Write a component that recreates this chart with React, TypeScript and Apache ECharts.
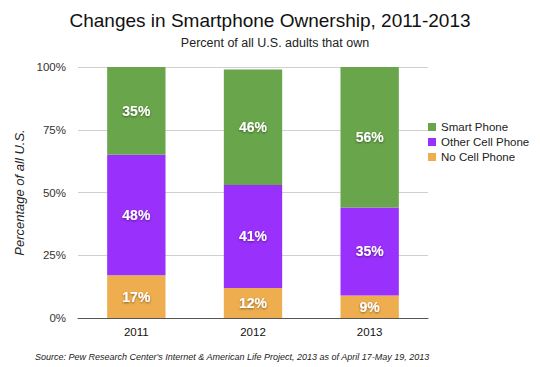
import React, { useEffect, useRef } from "react";
import * as echarts from "echarts";

const years = ["2011", "2012", "2013"];
const noCell = [17, 12, 9];
const otherCell = [48, 41, 35];
const smart = [35, 46, 56];
const yTicks = ["0%", "25%", "50%", "75%", "100%"];

export default function App() {
  const ref = useRef<HTMLDivElement>(null);
  useEffect(() => {
    const chart = echarts.init(ref.current!, null, { renderer: "svg" });
    const font = "Helvetica, Arial, 'Liberation Sans', sans-serif";
    const label = {
      show: true,
      color: "#fff",
      fontWeight: "bold" as const,
      fontSize: 14,
      fontFamily: font,
      textShadowColor: "rgba(0,0,0,0.45)",
      textShadowBlur: 2,
      textShadowOffsetY: 1,
      formatter: (p: any) => p.value + "%",
    };
    chart.setOption({
      animation: false,
      backgroundColor: "#fff",
      title: [
        {
          text: "Changes in Smartphone Ownership, 2011-2013",
          left: "center",
          top: 6,
          textStyle: { fontSize: 19, fontWeight: "normal", color: "#111", fontFamily: font },
        },
        {
          text: "Percent of all U.S. adults that own",
          left: 270,
          textAlign: "center",
          top: 31,
          textStyle: { fontSize: 12.5, fontWeight: "normal", color: "#222", fontFamily: font },
        },
        {
          text: "Source: Pew Research Center's Internet & American Life Project, 2013 as of April 17-May 19, 2013",
          left: 30,
          top: 347,
          textStyle: { fontSize: 9, fontStyle: "italic", fontWeight: "normal", color: "#222", fontFamily: font },
        },
      ],
      legend: {
        orient: "vertical",
        left: 423,
        top: 116,
        itemWidth: 8,
        itemHeight: 8,
        itemGap: 3,
        icon: "rect",
        data: ["Smart Phone", "Other Cell Phone", "No Cell Phone"],
        textStyle: { fontSize: 11.5, color: "#222", fontFamily: font },
      },
      grid: { left: 78, right: 112, top: 67, bottom: 49 },
      xAxis: {
        type: "category",
        data: years,
        axisTick: { show: false },
        axisLine: { lineStyle: { color: "#555", width: 1 } },
        axisLabel: { fontSize: 11.5, color: "#111", fontFamily: font, margin: 8 },
      },
      yAxis: {
        type: "value",
        min: 0,
        max: 100,
        interval: 25,
        name: "Percentage of all U.S.",
        nameLocation: "middle",
        nameGap: 52,
        nameTextStyle: { fontSize: 13, fontStyle: "italic", color: "#222", fontFamily: font },
        axisLabel: {
          fontSize: 11.5,
          color: "#333",
          fontFamily: font,
          margin: 12,
          formatter: (v: number) => yTicks[Math.round(v / 25)],
        },
        splitLine: { lineStyle: { color: "#d0d0d0" } },
        axisLine: { show: false },
      },
      series: [
        {
          name: "No Cell Phone",
          type: "bar",
          stack: "a",
          barWidth: "50%",
          data: noCell,
          itemStyle: { color: "#eeae4f" },
          label,
        },
        {
          name: "Other Cell Phone",
          type: "bar",
          stack: "a",
          data: otherCell,
          itemStyle: { color: "#9a30fb" },
          label,
        },
        {
          name: "Smart Phone",
          type: "bar",
          stack: "a",
          data: smart,
          itemStyle: { color: "#69a64b" },
          label,
        },
      ],
    });
    return () => chart.dispose();
  }, []);
  return <div ref={ref} style={{ width: 540, height: 367, position: "absolute", left: 0, top: 0 }} />;
}
